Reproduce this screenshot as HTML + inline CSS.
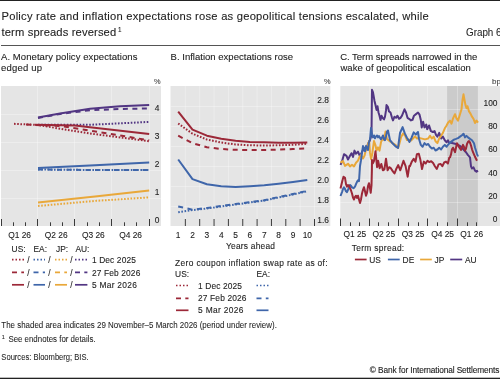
<!DOCTYPE html>
<html><head><meta charset="utf-8"><style>
html,body{margin:0;padding:0;background:#fff;width:500px;height:379px;overflow:hidden}
svg{display:block;font-family:"Liberation Sans", sans-serif;will-change:transform}
</style></head><body>
<svg width="500" height="379" viewBox="0 0 500 379">
<rect x="0" y="0" width="500" height="1" fill="#222"/>
<rect x="0" y="377.7" width="500" height="1.3" fill="#222"/>
<rect x="1" y="45" width="499" height="1" fill="#555"/>
<text x="1.5" y="19.7" font-size="11.2" textLength="427.2" lengthAdjust="spacing" fill="#222" stroke="#222" stroke-width="0.1">Policy rate and inflation expectations rose as geopolitical tensions escalated, while</text>
<text x="1.5" y="35.6" font-size="11.2" textLength="114.7" lengthAdjust="spacing" fill="#222" stroke="#222" stroke-width="0.1">term spreads reversed</text>
<text x="118" y="32" font-size="6.3" fill="#222" stroke="#222" stroke-width="0.1">1</text>
<text x="466" y="36.3" font-size="10.4" textLength="35.5" lengthAdjust="spacingAndGlyphs" fill="#222" stroke="#222" stroke-width="0.06">Graph 6</text>
<text x="1" y="59.8" font-size="9.5" textLength="136.4" lengthAdjust="spacing" fill="#222" stroke="#222" stroke-width="0.1">A. Monetary policy expectations</text>
<text x="1" y="70.9" font-size="9.5" textLength="41" lengthAdjust="spacing" fill="#222" stroke="#222" stroke-width="0.1">edged up</text>
<text x="170.6" y="59.8" font-size="9.5" textLength="122.4" lengthAdjust="spacing" fill="#222" stroke="#222" stroke-width="0.1">B. Inflation expectations rose</text>
<text x="340.2" y="59.8" font-size="9.5" textLength="137.2" lengthAdjust="spacing" fill="#222" stroke="#222" stroke-width="0.1">C. Term spreads narrowed in the</text>
<text x="340.4" y="70.7" font-size="9.5" textLength="130.4" lengthAdjust="spacing" fill="#222" stroke="#222" stroke-width="0.1">wake of geopolitical escalation</text>
<text x="160.5" y="84" font-size="7.4" text-anchor="end" fill="#444" stroke="#444" stroke-width="0.1">%</text>
<text x="330.5" y="84" font-size="7.4" text-anchor="end" fill="#444" stroke="#444" stroke-width="0.1">%</text>
<text x="501" y="84" font-size="8" text-anchor="end" fill="#444" stroke="#444" stroke-width="0.1">bp</text>
<rect x="1" y="86" width="160" height="140" fill="#e5e5e5"/>
<line x1="1" y1="198.5" x2="161" y2="198.5" stroke="rgba(255,255,255,0.3)" stroke-width="1"/>
<line x1="1" y1="170.5" x2="161" y2="170.5" stroke="rgba(255,255,255,0.3)" stroke-width="1"/>
<line x1="1" y1="142.5" x2="161" y2="142.5" stroke="rgba(255,255,255,0.3)" stroke-width="1"/>
<line x1="1" y1="114.5" x2="161" y2="114.5" stroke="rgba(255,255,255,0.3)" stroke-width="1"/>
<line x1="37.5" y1="86" x2="37.5" y2="226" stroke="rgba(255,255,255,0.3)" stroke-width="1"/>
<line x1="74.5" y1="86" x2="74.5" y2="226" stroke="rgba(255,255,255,0.3)" stroke-width="1"/>
<line x1="111.5" y1="86" x2="111.5" y2="226" stroke="rgba(255,255,255,0.3)" stroke-width="1"/>
<line x1="149.5" y1="86" x2="149.5" y2="226" stroke="rgba(255,255,255,0.3)" stroke-width="1"/>
<line x1="1.5" y1="219" x2="1.5" y2="226" stroke="#3a3a3a" stroke-width="1"/>
<line x1="13.5" y1="222.3" x2="13.5" y2="226" stroke="#3a3a3a" stroke-width="1"/>
<line x1="25.5" y1="222.3" x2="25.5" y2="226" stroke="#3a3a3a" stroke-width="1"/>
<line x1="37.5" y1="219" x2="37.5" y2="226" stroke="#3a3a3a" stroke-width="1"/>
<line x1="50.5" y1="222.3" x2="50.5" y2="226" stroke="#3a3a3a" stroke-width="1"/>
<line x1="62.5" y1="222.3" x2="62.5" y2="226" stroke="#3a3a3a" stroke-width="1"/>
<line x1="74.5" y1="219" x2="74.5" y2="226" stroke="#3a3a3a" stroke-width="1"/>
<line x1="87.5" y1="222.3" x2="87.5" y2="226" stroke="#3a3a3a" stroke-width="1"/>
<line x1="99.5" y1="222.3" x2="99.5" y2="226" stroke="#3a3a3a" stroke-width="1"/>
<line x1="111.5" y1="219" x2="111.5" y2="226" stroke="#3a3a3a" stroke-width="1"/>
<line x1="124.5" y1="222.3" x2="124.5" y2="226" stroke="#3a3a3a" stroke-width="1"/>
<line x1="136.5" y1="222.3" x2="136.5" y2="226" stroke="#3a3a3a" stroke-width="1"/>
<line x1="149.5" y1="219" x2="149.5" y2="226" stroke="#3a3a3a" stroke-width="1"/>
<text x="159.5" y="223" font-size="8.4" text-anchor="end" fill="#222" stroke="#222" stroke-width="0.1">0</text>
<text x="159.5" y="195" font-size="8.4" text-anchor="end" fill="#222" stroke="#222" stroke-width="0.1">1</text>
<text x="159.5" y="167" font-size="8.4" text-anchor="end" fill="#222" stroke="#222" stroke-width="0.1">2</text>
<text x="159.5" y="139" font-size="8.4" text-anchor="end" fill="#222" stroke="#222" stroke-width="0.1">3</text>
<text x="159.5" y="111" font-size="8.4" text-anchor="end" fill="#222" stroke="#222" stroke-width="0.1">4</text>
<text x="19.625" y="237.7" font-size="8.4" text-anchor="middle" fill="#222" stroke="#222" stroke-width="0.1">Q1 26</text>
<text x="56.2775" y="237.7" font-size="8.4" text-anchor="middle" fill="#222" stroke="#222" stroke-width="0.1">Q2 26</text>
<text x="93.33500000000001" y="237.7" font-size="8.4" text-anchor="middle" fill="#222" stroke="#222" stroke-width="0.1">Q3 26</text>
<text x="130.59500000000003" y="237.7" font-size="8.4" text-anchor="middle" fill="#222" stroke="#222" stroke-width="0.1">Q4 26</text>
<path d="M38.0,117.6 L60.0,113.5 L90.0,108.8 L120.0,106.3 L149.2,104.9" fill="none" stroke="#523683" stroke-width="2" stroke-linejoin="round" stroke-linecap="butt"/>
<path d="M38.0,118.0 L60.0,114.0 L90.0,110.2 L120.0,109.0 L149.2,108.4" fill="none" stroke="#523683" stroke-width="2" stroke-dasharray="5,4.5" stroke-linejoin="round" stroke-linecap="butt"/>
<path d="M38.0,124.8 L90.0,124.8 L149.2,121.9" fill="none" stroke="#523683" stroke-width="2" stroke-dasharray="1.6,1.6" stroke-linejoin="round" stroke-linecap="butt"/>
<path d="M35.0,124.7 L75.0,125.5 L90.0,127.2 L149.2,133.9" fill="none" stroke="#9c2838" stroke-width="2" stroke-linejoin="round" stroke-linecap="butt"/>
<path d="M26.0,124.6 L60.0,126.0 L90.0,130.6 L149.2,140.3" fill="none" stroke="#9c2838" stroke-width="2" stroke-dasharray="5,4.5" stroke-linejoin="round" stroke-linecap="butt"/>
<path d="M14.0,123.8 L37.5,125.0 L90.0,133.5 L149.2,141.2" fill="none" stroke="#9c2838" stroke-width="2" stroke-dasharray="1.6,1.6" stroke-linejoin="round" stroke-linecap="butt"/>
<path d="M38.0,168.0 L95.0,165.3 L149.2,162.6" fill="none" stroke="#3f66aa" stroke-width="2" stroke-linejoin="round" stroke-linecap="butt"/>
<path d="M38.0,169.5 L95.0,170.0 L149.2,170.0" fill="none" stroke="#3f66aa" stroke-width="2" stroke-dasharray="5,4.5" stroke-linejoin="round" stroke-linecap="butt"/>
<path d="M38.0,169.5 L95.0,170.0 L149.2,170.0" fill="none" stroke="#3f66aa" stroke-width="2" stroke-dasharray="1.6,1.6" stroke-linejoin="round" stroke-linecap="butt"/>
<path d="M38.0,202.5 L95.0,196.5 L149.2,190.6" fill="none" stroke="#e9a83a" stroke-width="2" stroke-linejoin="round" stroke-linecap="butt"/>
<path d="M38.0,206.0 L95.0,200.9 L149.2,197.4" fill="none" stroke="#e9a83a" stroke-width="2" stroke-dasharray="1.6,1.6" stroke-linejoin="round" stroke-linecap="butt"/>
<text x="11.6" y="251.9" font-size="8.4" fill="#222" stroke="#222" stroke-width="0.1">US:</text>
<text x="33.5" y="251.9" font-size="8.4" fill="#222" stroke="#222" stroke-width="0.1">EA:</text>
<text x="56.1" y="251.9" font-size="8.4" fill="#222" stroke="#222" stroke-width="0.1">JP:</text>
<text x="75.4" y="251.9" font-size="8.4" fill="#222" stroke="#222" stroke-width="0.1">AU:</text>
<path d="M12.0,259.7 L24.0,259.7" fill="none" stroke="#9c2838" stroke-width="1.7" stroke-dasharray="1.5,2" stroke-linejoin="round" stroke-linecap="butt"/>
<text x="28.5" y="263.2" font-size="8.4" text-anchor="middle" fill="#222" stroke="#222" stroke-width="0.1">/</text>
<path d="M33.5,259.7 L45.0,259.7" fill="none" stroke="#3f66aa" stroke-width="1.7" stroke-dasharray="1.5,2" stroke-linejoin="round" stroke-linecap="butt"/>
<text x="49.5" y="263.2" font-size="8.4" text-anchor="middle" fill="#222" stroke="#222" stroke-width="0.1">/</text>
<path d="M55.0,259.7 L67.0,259.7" fill="none" stroke="#e9a83a" stroke-width="1.7" stroke-dasharray="1.5,2" stroke-linejoin="round" stroke-linecap="butt"/>
<text x="71.5" y="263.2" font-size="8.4" text-anchor="middle" fill="#222" stroke="#222" stroke-width="0.1">/</text>
<path d="M75.0,259.7 L87.4,259.7" fill="none" stroke="#523683" stroke-width="1.7" stroke-dasharray="1.5,2" stroke-linejoin="round" stroke-linecap="butt"/>
<path d="M12.0,272.4 L24.0,272.4" fill="none" stroke="#9c2838" stroke-width="1.7" stroke-dasharray="5,4.3" stroke-linejoin="round" stroke-linecap="butt"/>
<text x="28.5" y="275.9" font-size="8.4" text-anchor="middle" fill="#222" stroke="#222" stroke-width="0.1">/</text>
<path d="M33.5,272.4 L45.0,272.4" fill="none" stroke="#3f66aa" stroke-width="1.7" stroke-dasharray="5,4.3" stroke-linejoin="round" stroke-linecap="butt"/>
<text x="49.5" y="275.9" font-size="8.4" text-anchor="middle" fill="#222" stroke="#222" stroke-width="0.1">/</text>
<path d="M55.0,272.4 L67.0,272.4" fill="none" stroke="#e9a83a" stroke-width="1.7" stroke-dasharray="5,4.3" stroke-linejoin="round" stroke-linecap="butt"/>
<text x="71.5" y="275.9" font-size="8.4" text-anchor="middle" fill="#222" stroke="#222" stroke-width="0.1">/</text>
<path d="M75.0,272.4 L87.4,272.4" fill="none" stroke="#523683" stroke-width="1.7" stroke-dasharray="5,4.3" stroke-linejoin="round" stroke-linecap="butt"/>
<path d="M12.0,284.8 L24.0,284.8" fill="none" stroke="#9c2838" stroke-width="1.7" stroke-linejoin="round" stroke-linecap="butt"/>
<text x="28.5" y="288.3" font-size="8.4" text-anchor="middle" fill="#222" stroke="#222" stroke-width="0.1">/</text>
<path d="M33.5,284.8 L45.0,284.8" fill="none" stroke="#3f66aa" stroke-width="1.7" stroke-linejoin="round" stroke-linecap="butt"/>
<text x="49.5" y="288.3" font-size="8.4" text-anchor="middle" fill="#222" stroke="#222" stroke-width="0.1">/</text>
<path d="M55.0,284.8 L67.0,284.8" fill="none" stroke="#e9a83a" stroke-width="1.7" stroke-linejoin="round" stroke-linecap="butt"/>
<text x="71.5" y="288.3" font-size="8.4" text-anchor="middle" fill="#222" stroke="#222" stroke-width="0.1">/</text>
<path d="M75.0,284.8 L87.4,284.8" fill="none" stroke="#523683" stroke-width="1.7" stroke-linejoin="round" stroke-linecap="butt"/>
<text x="91.9" y="263.3" font-size="8.4" textLength="44" lengthAdjust="spacing" fill="#222" stroke="#222" stroke-width="0.1">1 Dec 2025</text>
<text x="91.9" y="275.9" font-size="8.4" textLength="48.4" lengthAdjust="spacing" fill="#222" stroke="#222" stroke-width="0.1">27 Feb 2026</text>
<text x="91.9" y="288.2" font-size="8.4" textLength="45" lengthAdjust="spacing" fill="#222" stroke="#222" stroke-width="0.1">5 Mar 2026</text>
<rect x="170.5" y="86" width="159.8" height="140" fill="#e5e5e5"/>
<line x1="170.5" y1="206.5" x2="330.3" y2="206.5" stroke="rgba(255,255,255,0.3)" stroke-width="1"/>
<line x1="170.5" y1="186.5" x2="330.3" y2="186.5" stroke="rgba(255,255,255,0.3)" stroke-width="1"/>
<line x1="170.5" y1="166.5" x2="330.3" y2="166.5" stroke="rgba(255,255,255,0.3)" stroke-width="1"/>
<line x1="170.5" y1="146.5" x2="330.3" y2="146.5" stroke="rgba(255,255,255,0.3)" stroke-width="1"/>
<line x1="170.5" y1="126.5" x2="330.3" y2="126.5" stroke="rgba(255,255,255,0.3)" stroke-width="1"/>
<line x1="170.5" y1="106.5" x2="330.3" y2="106.5" stroke="rgba(255,255,255,0.3)" stroke-width="1"/>
<line x1="185.35" y1="86" x2="185.35" y2="226" stroke="rgba(255,255,255,0.3)" stroke-width="1"/>
<line x1="185.35" y1="219" x2="185.35" y2="226" stroke="#3a3a3a" stroke-width="1"/>
<line x1="199.7" y1="86" x2="199.7" y2="226" stroke="rgba(255,255,255,0.3)" stroke-width="1"/>
<line x1="199.7" y1="219" x2="199.7" y2="226" stroke="#3a3a3a" stroke-width="1"/>
<line x1="214.05" y1="86" x2="214.05" y2="226" stroke="rgba(255,255,255,0.3)" stroke-width="1"/>
<line x1="214.05" y1="219" x2="214.05" y2="226" stroke="#3a3a3a" stroke-width="1"/>
<line x1="228.4" y1="86" x2="228.4" y2="226" stroke="rgba(255,255,255,0.3)" stroke-width="1"/>
<line x1="228.4" y1="219" x2="228.4" y2="226" stroke="#3a3a3a" stroke-width="1"/>
<line x1="242.75" y1="86" x2="242.75" y2="226" stroke="rgba(255,255,255,0.3)" stroke-width="1"/>
<line x1="242.75" y1="219" x2="242.75" y2="226" stroke="#3a3a3a" stroke-width="1"/>
<line x1="257.1" y1="86" x2="257.1" y2="226" stroke="rgba(255,255,255,0.3)" stroke-width="1"/>
<line x1="257.1" y1="219" x2="257.1" y2="226" stroke="#3a3a3a" stroke-width="1"/>
<line x1="271.45" y1="86" x2="271.45" y2="226" stroke="rgba(255,255,255,0.3)" stroke-width="1"/>
<line x1="271.45" y1="219" x2="271.45" y2="226" stroke="#3a3a3a" stroke-width="1"/>
<line x1="285.8" y1="86" x2="285.8" y2="226" stroke="rgba(255,255,255,0.3)" stroke-width="1"/>
<line x1="285.8" y1="219" x2="285.8" y2="226" stroke="#3a3a3a" stroke-width="1"/>
<line x1="300.15" y1="86" x2="300.15" y2="226" stroke="rgba(255,255,255,0.3)" stroke-width="1"/>
<line x1="300.15" y1="219" x2="300.15" y2="226" stroke="#3a3a3a" stroke-width="1"/>
<line x1="314.5" y1="86" x2="314.5" y2="226" stroke="rgba(255,255,255,0.3)" stroke-width="1"/>
<line x1="314.5" y1="219" x2="314.5" y2="226" stroke="#3a3a3a" stroke-width="1"/>
<text x="329" y="223" font-size="8.4" text-anchor="end" fill="#222" stroke="#222" stroke-width="0.1">1.6</text>
<text x="329" y="203" font-size="8.4" text-anchor="end" fill="#222" stroke="#222" stroke-width="0.1">1.8</text>
<text x="329" y="183" font-size="8.4" text-anchor="end" fill="#222" stroke="#222" stroke-width="0.1">2.0</text>
<text x="329" y="163" font-size="8.4" text-anchor="end" fill="#222" stroke="#222" stroke-width="0.1">2.2</text>
<text x="329" y="143" font-size="8.4" text-anchor="end" fill="#222" stroke="#222" stroke-width="0.1">2.4</text>
<text x="329" y="123" font-size="8.4" text-anchor="end" fill="#222" stroke="#222" stroke-width="0.1">2.6</text>
<text x="329" y="103" font-size="8.4" text-anchor="end" fill="#222" stroke="#222" stroke-width="0.1">2.8</text>
<text x="178.175" y="237.7" font-size="8.4" text-anchor="middle" fill="#222" stroke="#222" stroke-width="0.1">1</text>
<text x="192.525" y="237.7" font-size="8.4" text-anchor="middle" fill="#222" stroke="#222" stroke-width="0.1">2</text>
<text x="206.875" y="237.7" font-size="8.4" text-anchor="middle" fill="#222" stroke="#222" stroke-width="0.1">3</text>
<text x="221.225" y="237.7" font-size="8.4" text-anchor="middle" fill="#222" stroke="#222" stroke-width="0.1">4</text>
<text x="235.575" y="237.7" font-size="8.4" text-anchor="middle" fill="#222" stroke="#222" stroke-width="0.1">5</text>
<text x="249.925" y="237.7" font-size="8.4" text-anchor="middle" fill="#222" stroke="#222" stroke-width="0.1">6</text>
<text x="264.275" y="237.7" font-size="8.4" text-anchor="middle" fill="#222" stroke="#222" stroke-width="0.1">7</text>
<text x="278.625" y="237.7" font-size="8.4" text-anchor="middle" fill="#222" stroke="#222" stroke-width="0.1">8</text>
<text x="292.975" y="237.7" font-size="8.4" text-anchor="middle" fill="#222" stroke="#222" stroke-width="0.1">9</text>
<text x="307.325" y="237.7" font-size="8.4" text-anchor="middle" fill="#222" stroke="#222" stroke-width="0.1">10</text>
<text x="226" y="249.2" font-size="8.4" textLength="49" lengthAdjust="spacing" fill="#222" stroke="#222" stroke-width="0.1">Years ahead</text>
<path d="M178.2,111.6 L192.5,129.7 L206.9,135.7 L221.2,138.8 L235.6,140.8 L249.9,141.9 L264.3,142.3 L278.6,142.7 L293.0,142.7 L307.3,142.4" fill="none" stroke="#9c2838" stroke-width="2" stroke-linejoin="round" stroke-linecap="butt"/>
<path d="M178.2,123.5 L192.5,133.7 L206.9,139.5 L221.2,142.5 L235.6,144.5 L249.9,145.3 L264.3,145.5 L278.6,145.3 L293.0,144.8 L307.3,143.7" fill="none" stroke="#9c2838" stroke-width="2" stroke-dasharray="1.6,1.6" stroke-linejoin="round" stroke-linecap="butt"/>
<path d="M178.2,135.7 L192.5,143.2 L206.9,147.2 L221.2,149.0 L235.6,149.8 L249.9,150.0 L264.3,150.0 L278.6,149.6 L293.0,149.0 L307.3,148.3" fill="none" stroke="#9c2838" stroke-width="2" stroke-dasharray="5,4.5" stroke-linejoin="round" stroke-linecap="butt"/>
<path d="M178.2,159.5 L192.5,179.1 L206.9,184.2 L221.2,186.3 L235.6,186.9 L249.9,186.2 L264.3,185.2 L278.6,183.7 L293.0,182.0 L307.3,180.1" fill="none" stroke="#3f66aa" stroke-width="2" stroke-linejoin="round" stroke-linecap="butt"/>
<path d="M178.2,206.5 L192.5,209.7 L206.9,208.0 L221.2,206.0 L235.6,204.0 L249.9,202.2 L264.3,200.2 L278.6,197.0 L293.0,194.0 L307.3,190.8" fill="none" stroke="#3f66aa" stroke-width="2" stroke-dasharray="5,4.5" stroke-linejoin="round" stroke-linecap="butt"/>
<path d="M178.2,212.2 L192.5,210.1 L206.9,208.5 L221.2,206.5 L235.6,204.5 L249.9,202.5 L264.3,200.5 L278.6,197.5 L293.0,194.5 L307.3,191.2" fill="none" stroke="#3f66aa" stroke-width="2" stroke-dasharray="1.6,1.6" stroke-linejoin="round" stroke-linecap="butt"/>
<text x="175.1" y="266" font-size="8.4" textLength="152.5" lengthAdjust="spacing" fill="#222" stroke="#222" stroke-width="0.1">Zero coupon inflation swap rate as of:</text>
<text x="175.1" y="276.9" font-size="8.4" fill="#222" stroke="#222" stroke-width="0.1">US:</text>
<text x="256.5" y="276.9" font-size="8.4" fill="#222" stroke="#222" stroke-width="0.1">EA:</text>
<path d="M176.0,285.5 L188.5,285.5" fill="none" stroke="#9c2838" stroke-width="1.7" stroke-dasharray="1.5,2" stroke-linejoin="round" stroke-linecap="butt"/>
<path d="M256.5,285.5 L268.5,285.5" fill="none" stroke="#3f66aa" stroke-width="1.7" stroke-dasharray="1.5,2" stroke-linejoin="round" stroke-linecap="butt"/>
<path d="M176.0,298.3 L188.5,298.3" fill="none" stroke="#9c2838" stroke-width="1.7" stroke-dasharray="5,4.3" stroke-linejoin="round" stroke-linecap="butt"/>
<path d="M256.5,298.3 L268.5,298.3" fill="none" stroke="#3f66aa" stroke-width="1.7" stroke-dasharray="5,4.3" stroke-linejoin="round" stroke-linecap="butt"/>
<path d="M176.0,310.3 L188.5,310.3" fill="none" stroke="#9c2838" stroke-width="1.7" stroke-linejoin="round" stroke-linecap="butt"/>
<path d="M256.5,310.3 L268.5,310.3" fill="none" stroke="#3f66aa" stroke-width="1.7" stroke-linejoin="round" stroke-linecap="butt"/>
<text x="198" y="288.6" font-size="8.4" textLength="44" lengthAdjust="spacing" fill="#222" stroke="#222" stroke-width="0.1">1 Dec 2025</text>
<text x="198" y="301.4" font-size="8.4" textLength="48.5" lengthAdjust="spacing" fill="#222" stroke="#222" stroke-width="0.1">27 Feb 2026</text>
<text x="198" y="313.4" font-size="8.4" textLength="45.3" lengthAdjust="spacing" fill="#222" stroke="#222" stroke-width="0.1">5 Mar 2026</text>
<rect x="340.3" y="86" width="159.7" height="140" fill="#e5e5e5"/>
<rect x="447.1" y="86" width="30.8" height="140" fill="#cbcbcb"/>
<line x1="340.3" y1="202.5" x2="500" y2="202.5" stroke="rgba(255,255,255,0.3)" stroke-width="1"/>
<line x1="340.3" y1="179.5" x2="500" y2="179.5" stroke="rgba(255,255,255,0.3)" stroke-width="1"/>
<line x1="340.3" y1="156.5" x2="500" y2="156.5" stroke="rgba(255,255,255,0.3)" stroke-width="1"/>
<line x1="340.3" y1="132.5" x2="500" y2="132.5" stroke="rgba(255,255,255,0.3)" stroke-width="1"/>
<line x1="340.3" y1="109.5" x2="500" y2="109.5" stroke="rgba(255,255,255,0.3)" stroke-width="1"/>
<line x1="369.5" y1="86" x2="369.5" y2="226" stroke="rgba(255,255,255,0.3)" stroke-width="1"/>
<line x1="398.5" y1="86" x2="398.5" y2="226" stroke="rgba(255,255,255,0.3)" stroke-width="1"/>
<line x1="427.5" y1="86" x2="427.5" y2="226" stroke="rgba(255,255,255,0.3)" stroke-width="1"/>
<line x1="457.5" y1="86" x2="457.5" y2="226" stroke="rgba(255,255,255,0.3)" stroke-width="1"/>
<line x1="340.5" y1="218.5" x2="340.5" y2="226" stroke="#3a3a3a" stroke-width="1"/>
<line x1="350.5" y1="222.3" x2="350.5" y2="226" stroke="#3a3a3a" stroke-width="1"/>
<line x1="359.5" y1="222.3" x2="359.5" y2="226" stroke="#3a3a3a" stroke-width="1"/>
<line x1="369.5" y1="218.5" x2="369.5" y2="226" stroke="#3a3a3a" stroke-width="1"/>
<line x1="378.5" y1="222.3" x2="378.5" y2="226" stroke="#3a3a3a" stroke-width="1"/>
<line x1="388.5" y1="222.3" x2="388.5" y2="226" stroke="#3a3a3a" stroke-width="1"/>
<line x1="398.5" y1="218.5" x2="398.5" y2="226" stroke="#3a3a3a" stroke-width="1"/>
<line x1="408.5" y1="222.3" x2="408.5" y2="226" stroke="#3a3a3a" stroke-width="1"/>
<line x1="418.5" y1="222.3" x2="418.5" y2="226" stroke="#3a3a3a" stroke-width="1"/>
<line x1="427.5" y1="218.5" x2="427.5" y2="226" stroke="#3a3a3a" stroke-width="1"/>
<line x1="437.5" y1="222.3" x2="437.5" y2="226" stroke="#3a3a3a" stroke-width="1"/>
<line x1="447.5" y1="222.3" x2="447.5" y2="226" stroke="#3a3a3a" stroke-width="1"/>
<line x1="457.5" y1="218.5" x2="457.5" y2="226" stroke="#3a3a3a" stroke-width="1"/>
<line x1="467.5" y1="222.3" x2="467.5" y2="226" stroke="#3a3a3a" stroke-width="1"/>
<line x1="476.5" y1="222.3" x2="476.5" y2="226" stroke="#3a3a3a" stroke-width="1"/>
<text x="497.5" y="221.89999999999998" font-size="8.4" text-anchor="end" fill="#222" stroke="#222" stroke-width="0.1">0</text>
<text x="497.5" y="198.7" font-size="8.4" text-anchor="end" fill="#222" stroke="#222" stroke-width="0.1">20</text>
<text x="497.5" y="175.49999999999997" font-size="8.4" text-anchor="end" fill="#222" stroke="#222" stroke-width="0.1">40</text>
<text x="497.5" y="152.29999999999998" font-size="8.4" text-anchor="end" fill="#222" stroke="#222" stroke-width="0.1">60</text>
<text x="497.5" y="129.09999999999997" font-size="8.4" text-anchor="end" fill="#222" stroke="#222" stroke-width="0.1">80</text>
<text x="497.5" y="105.89999999999999" font-size="8.4" text-anchor="end" fill="#222" stroke="#222" stroke-width="0.1">100</text>
<text x="354.8135" y="236.8" font-size="8.4" text-anchor="middle" fill="#222" stroke="#222" stroke-width="0.1">Q1 25</text>
<text x="383.80064999999996" y="236.8" font-size="8.4" text-anchor="middle" fill="#222" stroke="#222" stroke-width="0.1">Q2 25</text>
<text x="413.1080999999999" y="236.8" font-size="8.4" text-anchor="middle" fill="#222" stroke="#222" stroke-width="0.1">Q3 25</text>
<text x="442.5757" y="236.8" font-size="8.4" text-anchor="middle" fill="#222" stroke="#222" stroke-width="0.1">Q4 25</text>
<text x="471.72299999999996" y="236.8" font-size="8.4" text-anchor="middle" fill="#222" stroke="#222" stroke-width="0.1">Q1 26</text>
<text x="351.7" y="251.1" font-size="8.4" textLength="52.5" lengthAdjust="spacing" fill="#222" stroke="#222" stroke-width="0.1">Term spread:</text>
<path d="M354.9,259.5 L366.6,259.5" fill="none" stroke="#9c2838" stroke-width="1.7" stroke-linejoin="round" stroke-linecap="butt"/>
<text x="369.3" y="262.9" font-size="8.4" fill="#222" stroke="#222" stroke-width="0.1">US</text>
<path d="M387.9,259.5 L399.7,259.5" fill="none" stroke="#3f66aa" stroke-width="1.7" stroke-linejoin="round" stroke-linecap="butt"/>
<text x="402.6" y="262.9" font-size="8.4" fill="#222" stroke="#222" stroke-width="0.1">DE</text>
<path d="M420.1,259.5 L431.8,259.5" fill="none" stroke="#e9a83a" stroke-width="1.7" stroke-linejoin="round" stroke-linecap="butt"/>
<text x="434.5" y="262.9" font-size="8.4" fill="#222" stroke="#222" stroke-width="0.1">JP</text>
<path d="M450.2,259.5 L462.2,259.5" fill="none" stroke="#523683" stroke-width="1.7" stroke-linejoin="round" stroke-linecap="butt"/>
<text x="464.9" y="262.9" font-size="8.4" fill="#222" stroke="#222" stroke-width="0.1">AU</text>
<path d="M340.5,164.8 L342.0,161.6 L344.0,154.2 L346.5,155.8 L348.0,159.5 L350.0,155.8 L351.5,153.2 L353.0,156.9 L354.5,150.6 L356.0,153.7 L358.0,151.6 L360.0,156.4 L362.0,152.0 L364.0,148.0 L366.0,150.0 L368.0,144.0 L370.0,140.0 L371.5,135.0 L372.0,89.8 L373.0,92.4 L374.5,100.9 L375.5,105.1 L376.5,109.9 L377.5,106.2 L378.5,112.5 L379.5,115.7 L380.5,119.9 L381.5,115.7 L382.5,117.8 L384.0,119.4 L385.0,116.7 L386.0,110.4 L386.5,105.1 L388.0,107.2 L389.0,111.4 L390.5,112.5 L392.0,117.8 L393.0,120.4 L394.5,116.7 L396.0,117.8 L397.5,115.7 L399.0,118.8 L400.5,117.8 L402.0,115.7 L404.5,109.3 L406.0,112.5 L407.5,117.8 L409.0,118.8 L411.0,120.4 L412.5,119.9 L414.0,115.7 L416.0,114.1 L418.0,112.5 L419.5,114.6 L420.8,120.0 L421.7,127.4 L423.1,121.8 L424.5,127.4 L426.3,124.6 L427.2,129.2 L429.1,125.5 L430.9,131.1 L432.8,132.0 L434.6,131.1 L436.0,134.8 L437.4,136.6 L439.2,132.9 L441.1,138.5 L442.9,136.6 L444.8,140.3 L446.6,142.2 L448.0,140.3 L449.0,142.6 L452.0,143.0 L456.0,144.0 L460.0,146.0 L463.0,149.0 L466.0,152.2 L468.0,155.1 L470.0,157.3 L471.0,166.4 L472.0,168.5 L473.5,167.4 L475.0,170.6 L476.5,171.7 L478.0,170.6" fill="none" stroke="#523683" stroke-width="2" stroke-linejoin="round" stroke-linecap="butt"/>
<path d="M340.5,162.7 L343.0,161.1 L345.0,165.9 L348.0,163.7 L350.0,166.4 L352.0,164.8 L354.0,166.4 L356.0,162.7 L358.0,160.6 L359.5,157.0 L361.0,155.0 L363.0,158.5 L364.5,155.8 L366.0,149.5 L368.0,144.2 L369.2,141.0 L370.0,152.9 L371.0,158.9 L372.0,155.3 L373.0,148.2 L374.0,141.0 L375.5,145.3 L376.5,150.6 L378.0,147.4 L379.5,150.6 L381.0,142.2 L382.5,139.0 L384.0,140.0 L385.5,131.6 L387.0,139.0 L390.0,141.4 L393.0,143.4 L396.0,145.3 L398.0,148.0 L399.0,145.3 L401.0,137.4 L403.0,133.5 L405.0,135.4 L407.0,140.0 L409.0,139.6 L411.0,140.7 L413.0,138.5 L415.0,136.4 L417.0,138.5 L420.0,138.1 L425.0,139.4 L428.2,138.5 L430.0,135.7 L431.8,138.5 L433.7,136.6 L435.5,141.2 L437.4,143.1 L439.2,138.5 L441.1,135.7 L442.9,132.9 L444.8,128.3 L446.6,125.5 L448.0,122.7 L450.0,120.6 L451.5,123.7 L453.0,118.4 L455.0,114.2 L456.5,118.4 L458.0,120.6 L460.0,114.2 L461.5,109.3 L462.5,100.0 L463.5,94.3 L464.5,100.0 L465.5,105.1 L466.5,108.3 L467.5,106.2 L469.0,111.4 L470.5,113.6 L472.0,116.7 L473.5,118.8 L475.0,123.0 L476.5,120.6 L478.0,122.7" fill="none" stroke="#e9a83a" stroke-width="2" stroke-linejoin="round" stroke-linecap="butt"/>
<path d="M340.5,196.0 L342.0,192.1 L343.0,189.0 L344.0,187.4 L345.0,189.0 L346.0,191.3 L347.0,192.1 L348.0,189.8 L349.0,187.4 L350.0,185.0 L351.0,185.8 L352.0,187.4 L353.5,188.2 L355.0,186.6 L356.0,184.2 L357.0,181.9 L358.0,180.3 L359.0,181.2 L360.0,166.0 L361.0,160.2 L362.0,152.8 L363.0,146.1 L364.0,148.3 L365.0,151.3 L366.0,146.0 L367.0,148.0 L368.0,150.0 L369.0,142.0 L370.0,139.5 L371.0,127.9 L372.0,134.5 L373.0,137.4 L374.0,135.5 L375.0,138.3 L376.0,136.4 L377.0,135.5 L378.0,137.4 L379.0,136.0 L380.0,137.9 L381.0,139.3 L382.0,137.4 L383.0,135.5 L384.0,139.3 L385.0,140.2 L386.0,136.4 L387.0,131.7 L388.0,130.5 L390.0,140.1 L392.0,142.7 L394.0,144.7 L396.0,146.7 L398.0,148.0 L400.0,133.0 L402.6,127.1 L404.8,133.4 L406.9,137.7 L409.5,141.9 L411.6,137.7 L413.7,132.4 L415.8,134.5 L418.0,132.0 L418.9,138.5 L420.8,144.9 L422.6,146.8 L424.5,143.1 L426.3,144.9 L428.2,144.0 L430.0,146.8 L431.9,148.6 L433.7,147.7 L435.5,150.5 L437.4,149.5 L439.2,147.7 L441.1,149.5 L442.9,146.8 L444.8,144.9 L446.6,146.8 L448.0,144.8 L450.0,142.6 L452.0,141.1 L454.0,139.6 L456.0,138.9 L458.0,138.1 L460.0,136.6 L462.0,135.2 L463.5,133.7 L465.0,137.4 L466.5,135.9 L468.0,137.4 L470.0,138.9 L472.0,140.3 L474.0,143.3 L475.0,147.5 L477.0,154.0 L478.0,156.5" fill="none" stroke="#3f66aa" stroke-width="2" stroke-linejoin="round" stroke-linecap="butt"/>
<path d="M340.5,188.5 L342.5,180.3 L343.5,176.7 L345.0,177.9 L346.0,184.2 L347.0,186.6 L348.0,185.0 L349.0,185.8 L350.0,188.2 L351.0,190.5 L352.0,193.5 L353.0,197.5 L354.0,199.5 L355.0,196.8 L356.0,195.7 L357.0,197.9 L358.0,195.7 L359.0,199.4 L360.0,203.0 L361.0,199.4 L362.0,193.5 L363.0,189.8 L364.0,187.2 L365.0,191.3 L366.0,195.7 L367.0,192.8 L368.0,186.1 L369.0,183.2 L370.0,188.3 L370.7,192.8 L371.5,185.4 L371.9,170.0 L372.0,160.0 L373.0,163.2 L374.0,160.8 L375.5,151.3 L377.1,167.2 L378.1,160.8 L379.7,168.2 L381.3,164.0 L382.9,170.3 L384.4,169.3 L386.0,158.7 L387.6,170.3 L389.2,167.2 L390.8,168.2 L392.9,171.4 L394.5,173.5 L396.1,169.3 L398.2,165.1 L400.3,170.3 L403.5,160.8 L405.6,166.1 L407.7,176.7 L409.3,166.1 L410.0,166.2 L411.8,161.6 L413.7,158.9 L415.5,161.6 L416.9,154.2 L418.8,153.8 L420.2,158.9 L422.0,169.0 L423.9,161.6 L425.7,163.5 L427.5,160.7 L429.4,162.1 L431.2,161.2 L433.1,163.0 L434.9,166.2 L436.8,169.0 L438.6,164.4 L440.5,163.9 L442.3,166.2 L444.2,162.5 L446.0,161.6 L447.9,163.5 L449.2,157.9 L450.0,157.3 L451.0,154.4 L452.0,149.2 L453.0,147.7 L454.0,149.9 L455.0,152.2 L456.0,147.7 L457.0,143.3 L458.0,144.8 L459.0,147.0 L460.0,148.5 L461.0,149.9 L462.0,147.0 L463.0,144.8 L464.0,147.0 L465.0,150.7 L466.0,148.5 L467.0,144.0 L468.0,141.8 L469.0,141.1 L470.0,142.6 L471.0,145.5 L472.0,149.2 L473.0,152.2 L474.0,154.4 L475.0,156.8 L477.0,160.8" fill="none" stroke="#9c2838" stroke-width="2" stroke-linejoin="round" stroke-linecap="butt"/>
<text x="1.35" y="328" font-size="8.4" textLength="275.5" lengthAdjust="spacingAndGlyphs" fill="#222" stroke="#222" stroke-width="0.06">The shaded area indicates 29 November–5 March 2026 (period under review).</text>
<text x="1.7" y="339" font-size="5.5" fill="#222" stroke="#222" stroke-width="0.08">1</text>
<text x="8.4" y="342.2" font-size="8.4" textLength="87.2" lengthAdjust="spacingAndGlyphs" fill="#222" stroke="#222" stroke-width="0.06">See endnotes for details.</text>
<text x="1.35" y="359.5" font-size="8.4" textLength="87.3" lengthAdjust="spacingAndGlyphs" fill="#222" stroke="#222" stroke-width="0.06">Sources: Bloomberg; BIS.</text>
<text x="369.8" y="373" font-size="8.3" textLength="129.6" lengthAdjust="spacing" fill="#222" stroke="#222" stroke-width="0.12">© Bank for International Settlements</text>
</svg></body></html>
